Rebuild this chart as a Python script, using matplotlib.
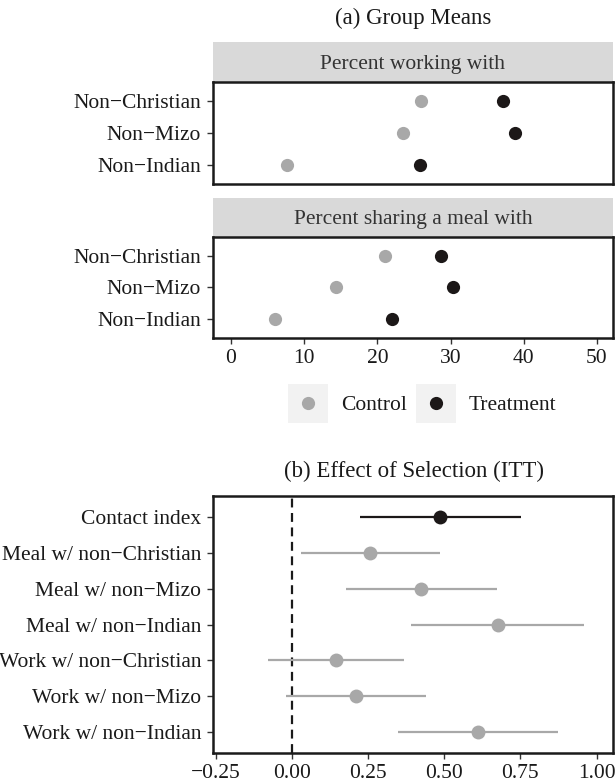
import matplotlib
matplotlib.use('Agg')
import matplotlib.pyplot as plt
from matplotlib.patches import Rectangle
from matplotlib.lines import Line2D

plt.rcParams['font.family'] = ['Liberation Serif', 'DejaVu Serif']

# data, panel (a)
groups = ['Non\u2212Christian', 'Non\u2212Mizo', 'Non\u2212Indian']
work_control = [26.0, 23.5, 7.7]
work_treat = [37.2, 38.8, 25.8]
meal_control = [21.1, 14.3, 6.0]
meal_treat = [28.7, 30.3, 22.0]
a_ticks = [0, 10, 20, 30, 40, 50]

# data, panel (b)
outcomes = ['Contact index', 'Meal w/ non\u2212Christian', 'Meal w/ non\u2212Mizo',
            'Meal w/ non\u2212Indian', 'Work w/ non\u2212Christian',
            'Work w/ non\u2212Mizo', 'Work w/ non\u2212Indian']
itt = [0.487, 0.257, 0.425, 0.677, 0.146, 0.210, 0.612]
ci_low = [0.225, 0.031, 0.179, 0.392, -0.077, -0.021, 0.349]
ci_high = [0.751, 0.485, 0.674, 0.959, 0.368, 0.441, 0.874]
b_ticks = [-0.25, 0.0, 0.25, 0.5, 0.75, 1.0]

W, H = 616, 783
fig = plt.figure(figsize=(W / 100, H / 100), dpi=100)
fig.set_facecolor('white')

def rect(l, t, r, b):
    return [l / W, 1 - b / H, (r - l) / W, (b - t) / H]

c_ctrl = '#a8a8a8'
c_treat = '#1c1818'
txt = '#1a1a1a'
fs = 15.5
fs_title = 16.5

def style(ax):
    for s in ax.spines.values():
        s.set_linewidth(1.8)
        s.set_color('#1a1a1a')
    ax.tick_params(length=4, width=1.0, color='#333333', labelsize=fs,
                   labelcolor=txt)
    ax.tick_params(axis='y', pad=4.5)
    ax.tick_params(axis='x', pad=4)

def strip(t, b, label):
    s = fig.add_axes(rect(213, t, 613, b))
    s.set_facecolor('#d9d9d9')
    for sp in s.spines.values():
        sp.set_visible(False)
    s.set_xticks([])
    s.set_yticks([])
    s.text(0.5, 0.45, label, ha='center', va='center', fontsize=fs, color='#333333',
           transform=s.transAxes)

def dot_panel(t, b, ctrl, treat, show_x):
    ax = fig.add_axes(rect(213, t, 613, b))
    ypos = [3, 2, 1]
    ax.plot(ctrl, ypos, 'o', color=c_ctrl, ms=9.5, mec='none')
    ax.plot(treat, ypos, 'o', color=c_treat, ms=9.5, mec='none')
    ax.set_ylim(0.4, 3.6)
    ax.set_xlim(-2.46, 52.2)
    ax.set_yticks(ypos)
    ax.set_yticklabels(groups)
    ax.set_xticks(a_ticks)
    style(ax)
    if not show_x:
        ax.tick_params(axis='x', length=0, labelbottom=False)
    return ax

fig.text(413 / W, 1 - 18 / H, '(a) Group Means', ha='center', va='center',
         fontsize=fs_title, color=txt)
strip(42, 82, 'Percent working with')
dot_panel(82, 184, work_control, work_treat, False)
strip(198, 237, 'Percent sharing a meal with')
dot_panel(237, 338, meal_control, meal_treat, True)

# legend
for x0, col, lab in [(288, c_ctrl, 'Control'), (416, c_treat, 'Treatment')]:
    fig.add_artist(Rectangle((x0 / W, 1 - 423 / H), 40 / W, 39 / H,
                             transform=fig.transFigure, facecolor='#f2f2f2',
                             edgecolor='none'))
    fig.add_artist(Line2D([(x0 + 20) / W], [1 - 403 / H], marker='o', color=col,
                          ms=9.5, mec='none', transform=fig.transFigure))
    fig.text((x0 + 53) / W, 1 - 405 / H, lab, ha='left', va='center',
             fontsize=fs, color=txt)

# panel (b)
fig.text(414 / W, 1 - 471 / H, '(b) Effect of Selection (ITT)', ha='center',
         va='center', fontsize=fs_title, color=txt)
axb = fig.add_axes(rect(213, 496, 613, 753))
n = len(outcomes)
yb = list(range(n, 0, -1))
axb.axvline(0, color='#1a1a1a', lw=1.6, ls=(0, (4, 2.5)), zorder=1)
for i in range(n):
    col = c_treat if i == 0 else c_ctrl
    axb.plot([ci_low[i], ci_high[i]], [yb[i], yb[i]], color=col, lw=1.6,
             solid_capstyle='butt', zorder=2)
    axb.plot(itt[i], yb[i], 'o', color=col, ms=10, mec='none', zorder=3)
axb.set_ylim(0.4, n + 0.6)
axb.set_xlim(-0.259, 1.054)
axb.set_yticks(yb)
axb.set_yticklabels(outcomes)
axb.set_xticks(b_ticks)
axb.set_xticklabels(['\u22120.25', '0.00', '0.25', '0.50', '0.75', '1.00'])
style(axb)

fig.savefig('out.png', dpi=100)
